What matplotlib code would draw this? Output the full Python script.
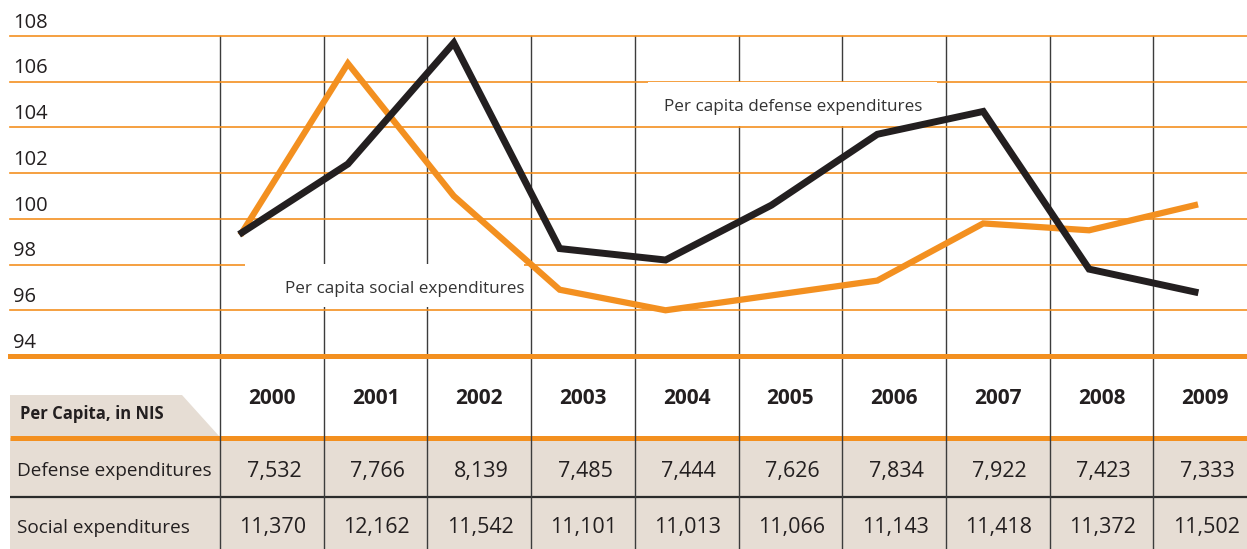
import matplotlib
matplotlib.use("Agg")
import matplotlib.pyplot as plt
from matplotlib.patches import Rectangle, Polygon

plt.rcParams['font.family'] = ['Open Sans', 'DejaVu Sans']

# ---- data ----
years = [2000, 2001, 2002, 2003, 2004, 2005, 2006, 2007, 2008, 2009]
defense_index = [99.4, 102.4, 107.7, 98.7, 98.2, 100.6, 103.7, 104.7, 97.8, 96.8]
social_index = [99.4, 106.8, 101.0, 96.9, 96.0, 96.65, 97.3, 99.8, 99.5, 100.6]
defense_nis = ["7,532", "7,766", "8,139", "7,485", "7,444", "7,626", "7,834", "7,922", "7,423", "7,333"]
social_nis = ["11,370", "12,162", "11,542", "11,101", "11,013", "11,066", "11,143", "11,418", "11,372", "11,502"]
y_ticks = [94, 96, 98, 100, 102, 104, 106, 108]
row_labels = ["Defense expenditures", "Social expenditures"]
header_label = "Per Capita, in NIS"
defense_label = "Per capita defense expenditures"
social_label = "Per capita social expenditures"

ORANGE = '#f39020'
DARK = '#231f20'
BEIGE = '#e6ddd4'
TXT = '#231f20'

W, H = 1247, 549
fig = plt.figure(figsize=(W / 100, H / 100), dpi=100)
fig.patch.set_facecolor('white')

bg = fig.add_axes([0, 0, 1, 1])
bg.set_xlim(0, W)
bg.set_ylim(H, 0)
bg.axis('off')

# chart axes: year 2000 -> px 242, 2009 -> px 1195
x0, x1 = 10, W
px_per_year = (1195 - 242) / 9
ax = fig.add_axes([x0 / W, 1 - 356 / H, (x1 - x0) / W, (356 - 36) / H])
ax.set_xlim(2000 + (x0 - 242) / px_per_year, 2000 + (x1 - 242) / px_per_year)
ax.set_ylim(94, 108)
ax.axis('off')
ax.patch.set_alpha(0)

# table backgrounds
bg.add_patch(Polygon([(10, 395), (182, 395), (219, 436), (10, 436)], closed=True,
                     facecolor=BEIGE, edgecolor='none', zorder=1))
bg.add_patch(Rectangle((10, 438), W - 10, 58, facecolor=BEIGE, edgecolor='none', zorder=1))
bg.add_patch(Rectangle((10, 498), W - 10, 51, facecolor=BEIGE, edgecolor='none', zorder=1))
bg.plot([10, W], [437.5, 437.5], color=ORANGE, lw=3.6, solid_capstyle='butt', zorder=2)
bg.plot([10, W], [497, 497], color='#2b2b2b', lw=1.6, solid_capstyle='butt', zorder=2)

# column boundaries
col0, colw = 220, 103.7
for k in range(10):
    xv = col0 + colw * k
    bg.plot([xv, xv], [36, H], color='#3c3c3c', lw=1.0, zorder=3)

# gridlines
for v in y_ticks[1:]:
    ax.axhline(v, color=ORANGE, lw=1.2, zorder=1, clip_on=False)
ax.axhline(94, color=ORANGE, lw=3.6, zorder=1, clip_on=False)

for v in y_ticks:
    ax.annotate(str(v), xy=(0, v), xycoords=('axes fraction', 'data'),
                xytext=(2, 6), textcoords='offset points', ha='left', va='baseline',
                fontsize=14.5, color=TXT, annotation_clip=False)

# label boxes (cover grid and column lines)
ax.add_patch(Rectangle((648, 82), 289, 44, transform=bg.transData, facecolor='white',
                       edgecolor='none', zorder=3, clip_on=False))
ax.add_patch(Rectangle((245, 264), 279, 43, transform=bg.transData, facecolor='white',
                       edgecolor='none', zorder=3, clip_on=False))
ax.text(664, 107, defense_label, transform=bg.transData, ha='left', va='center',
        fontsize=12.3, color='#333333', zorder=4)
ax.text(285, 289, social_label, transform=bg.transData, ha='left', va='center',
        fontsize=12.3, color='#333333', zorder=4)

# lines
ax.plot(years, social_index, color=ORANGE, lw=4.5, solid_joinstyle='miter', zorder=5, clip_on=False)
ax.plot(years, defense_index, color=DARK, lw=5, solid_joinstyle='miter', zorder=6, clip_on=False)

# table text
for k, (yr, d, s) in enumerate(zip(years, defense_nis, social_nis)):
    cx = col0 + colw * k + colw / 2
    bg.text(cx, 398, str(yr), ha='center', va='center', fontsize=15, fontweight='bold', color=TXT, zorder=4)
    bg.text(cx + 2, 471, d, ha='center', va='center', fontsize=15.5, color=TXT, zorder=4)
    bg.text(cx + 1, 528, s, ha='center', va='center', fontsize=15.5, color=TXT, zorder=4)

bg.text(20, 414, header_label, ha='left', va='center', fontsize=12, fontweight='bold', color=TXT, zorder=4)
bg.text(17, 471, row_labels[0], ha='left', va='center', fontsize=13.7, color=TXT, zorder=4)
bg.text(17, 528, row_labels[1], ha='left', va='center', fontsize=13.7, color=TXT, zorder=4)

fig.savefig('out.png', dpi=100, facecolor='white')
